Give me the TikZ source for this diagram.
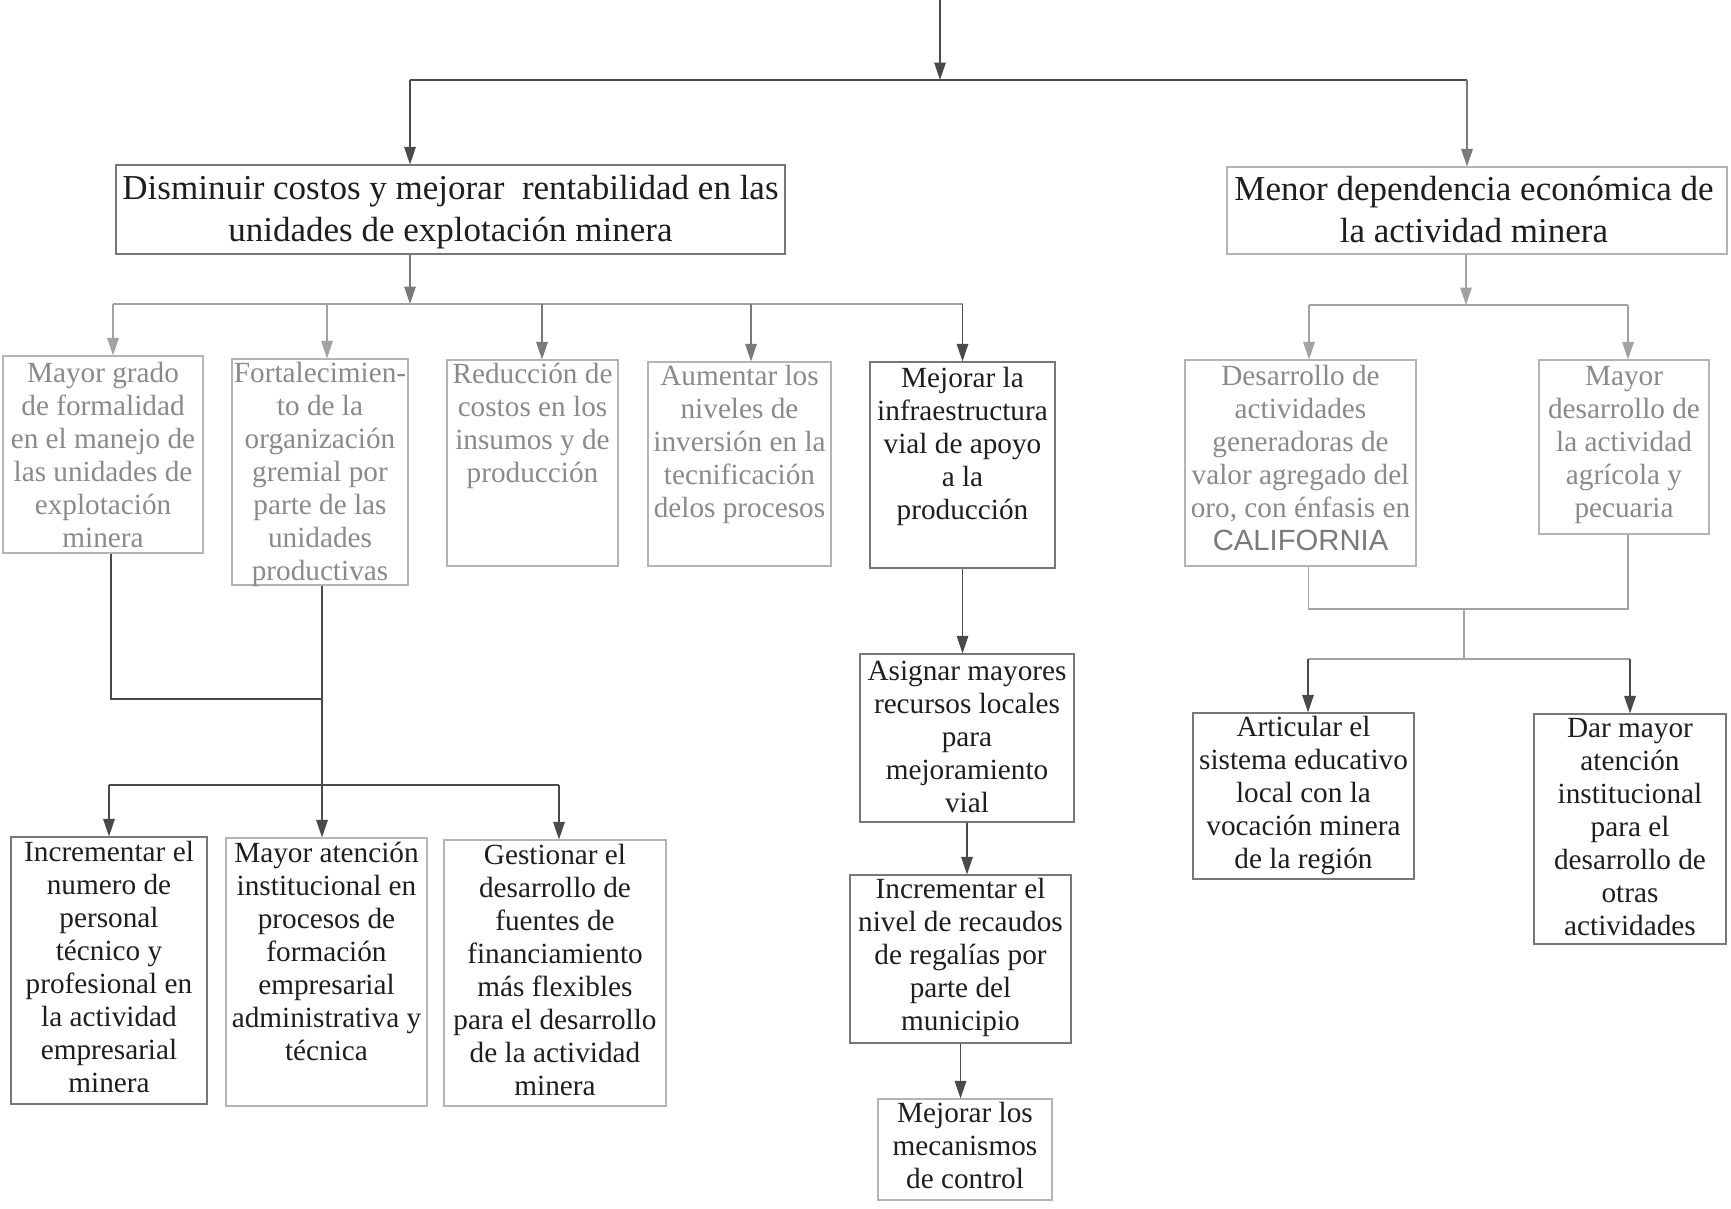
\documentclass[tikz,border=0pt]{standalone}
\usepackage{fontspec}
\setmainfont{Liberation Serif}
\newfontfamily\capsfont{Liberation Sans}
\usetikzlibrary{arrows.meta,calc}

\definecolor{ink}{HTML}{1E1E1E}
\definecolor{faint}{HTML}{8A8A8A}
\definecolor{wire}{HTML}{4A4A4A}
\definecolor{wiremid}{HTML}{7A7A7A}
\definecolor{wirefaint}{HTML}{A2A2A2}
\definecolor{frame}{HTML}{777777}
\definecolor{framefaint}{HTML}{B4B4B4}

\begin{document}
\begin{tikzpicture}[x=0.4pt,y=-0.4pt,
  box/.style={draw=frame,line width=0.45pt,inner sep=0pt},
  fadedbox/.style={box,draw=framefaint},
  txt/.style={anchor=north,align=center,inner sep=0pt,text=ink,font=\fontsize{11.7}{13.2}\selectfont},
  ftxt/.style={txt,text=faint},
  big/.style={txt,font=\fontsize{14}{16.8}\selectfont},
  conn/.style={draw=wire,line width=0.55pt},
  mconn/.style={draw=wiremid,line width=0.55pt},
  fconn/.style={draw=wirefaint,line width=0.55pt},
  tip/.style={-{Triangle[length=7pt,width=4.6pt]}},
  arr/.style={conn,tip},
  marr/.style={mconn,tip},
  farr/.style={fconn,tip},
]
\fill[white] (0,0) rectangle (1731,1208);
\useasboundingbox (0,0) rectangle (1731,1208);

% ---------- upper level ----------
\node[box,minimum width=267.6pt,minimum height=35.6pt] (D) at (450.5,209.5) {};
\node[big] (Dt) at ([yshift=-2pt]D.north) {\strut Disminuir costos y mejorar~ rentabilidad en las\\unidades de explotación minera};

\node[fadedbox,minimum width=200pt,minimum height=34.8pt] (M) at (1477,210.5) {};
\node[big] (Mt) at ([xshift=-1.2pt,yshift=-1.5pt]M.north) {\strut Menor dependencia económica de\\la actividad minera};

% ---------- second level, left ----------
\node[fadedbox,minimum width=80pt,minimum height=78.8pt] (a1) at (103,454.5) {};
\node[ftxt] (a1t) at ([yshift=-1.5pt]a1.north) {\strut Mayor grado\\de formalidad\\en el manejo de\\las unidades de\\explotación\\minera};

\node[fadedbox,minimum width=70.4pt,minimum height=90.4pt] (a2) at (320,472) {};
\node[ftxt] (a2t) at (a2.north) {\strut Fortalecimien-\\to de la\\organización\\gremial por\\parte de las\\unidades\\productivas};

\node[fadedbox,minimum width=68.4pt,minimum height=82.4pt] (a3) at (532.5,463) {};
\node[ftxt] (a3t) at (a3.north) {\strut Reducción de\\costos en los\\insumos y de\\producción};

\node[fadedbox,minimum width=73.2pt,minimum height=81.6pt] (a4) at (739.5,464) {};
\node[ftxt] (a4t) at (a4.north) {\strut Aumentar los\\niveles de\\inversión en la\\tecnificación\\delos procesos};

\node[box,minimum width=74pt,minimum height=82.4pt] (a5) at (962.5,465) {};
\node[txt] (a5t) at ([yshift=-0.8pt]a5.north) {\strut Mejorar la\\infraestructura\\vial de apoyo\\a la\\producción};

% ---------- second level, right ----------
\node[fadedbox,minimum width=92.4pt,minimum height=82.4pt] (r1) at (1300.5,463) {};
\node[ftxt] (r1t) at ([yshift=-0.8pt]r1.north) {\strut Desarrollo de\\actividades\\generadoras de\\valor agregado del\\oro, con énfasis en\\{\color{wiremid}\capsfont CALIFORNIA}};

\node[fadedbox,minimum width=68pt,minimum height=69.6pt] (r2) at (1624,447) {};
\node[ftxt] (r2t) at ([yshift=-0.8pt]r2.north) {\strut Mayor\\desarrollo de\\la actividad\\agrícola y\\pecuaria};

% ---------- third level, left ----------
\node[box,minimum width=78.4pt,minimum height=106.8pt] (c1) at (109,970.5) {};
\node[txt] (c1t) at ([yshift=-0.6pt]c1.north) {\strut Incrementar el\\numero de\\personal\\técnico y\\profesional en\\la actividad\\empresarial\\minera};

\node[fadedbox,minimum width=80.4pt,minimum height=107.2pt] (c2) at (326.5,972) {};
\node[txt] (c2t) at ([yshift=-0.6pt]c2.north) {\strut Mayor atención\\institucional en\\procesos de\\formación\\empresarial\\administrativa y\\técnica};

\node[fadedbox,minimum width=88.8pt,minimum height=106.4pt] (c3) at (555,973) {};
\node[txt] (c3t) at ([yshift=-0.6pt]c3.north) {\strut Gestionar el\\desarrollo de\\fuentes de\\financiamiento\\más flexibles\\para el desarrollo\\de la actividad\\minera};

% ---------- middle chain ----------
\node[box,minimum width=85.6pt,minimum height=67.2pt] (m1) at (967,738) {};
\node[txt] (m1t) at ([yshift=-1.2pt]m1.north) {\strut Asignar mayores\\recursos locales\\para\\mejoramiento\\vial};

\node[box,minimum width=88.4pt,minimum height=67.2pt] (m2) at (960.5,959) {};
\node[txt] (m2t) at (m2.north) {\strut Incrementar el\\nivel de recaudos\\de regalías por\\parte del\\municipio};

\node[fadedbox,minimum width=69.6pt,minimum height=40.4pt] (m3) at (965,1149.5) {};
\node[txt] (m3t) at (m3.north) {\strut Mejorar los\\mecanismos\\de control};

% ---------- third level, right ----------
\node[box,minimum width=88.4pt,minimum height=66.4pt] (r3) at (1303.5,796) {};
\node[txt] (r3t) at (r3.north) {\strut Articular el\\sistema educativo\\local con la\\vocación minera\\de la región};

\node[box,minimum width=76.8pt,minimum height=92pt] (r4) at (1630,829) {};
\node[txt] (r4t) at (r4.north) {\strut Dar mayor\\atención\\institucional\\para el\\desarrollo de\\otras\\actividades};

% ---------- connectors ----------
\coordinate (top) at (940,0);
\coordinate (jL) at (410,80);
\coordinate (jR) at (1467,80);
\draw[arr] (top) -- (top |- jL);
\draw[conn] (jL) -- (jR);
\draw[arr] (jL) -- (jL |- D.north);
\draw[marr] (jR) -- (jR |- M.north);

% branches below the left objective
\coordinate (dbus) at (410,304);
\coordinate (a1in) at ($(a1.north)+(10,0)$);
\coordinate (a2in) at ($(a2.north)+(7,0)$);
\coordinate (a3in) at ($(a3.north)+(9.5,0)$);
\coordinate (a4in) at ($(a4.north)+(11.5,0)$);
\draw[marr] (D.south -| dbus) -- (dbus);
\draw[fconn] (a1in |- dbus) -- (a5.north |- dbus);
\draw[farr] (a1in |- dbus) -- (a1in);
\draw[farr] (a2in |- dbus) -- (a2in);
\draw[marr] (a3in |- dbus) -- (a3in);
\draw[marr] (a4in |- dbus) -- (a4in);
\draw[arr] (a5.north |- dbus) -- (a5.north);

% branches below the right objective
\coordinate (mbus) at (1466,305);
\coordinate (r1in) at ($(r1.north)+(8.5,0)$);
\coordinate (r2in) at ($(r2.north)+(4,0)$);
\draw[farr] (M.south -| mbus) -- (mbus);
\draw[fconn] (r1in |- mbus) -- (r2in |- mbus);
\draw[farr] (r1in |- mbus) -- (r1in);
\draw[farr] (r2in |- mbus) -- (r2in);

% joint of the first two boxes and their actions
\coordinate (a1out) at ($(a1.south)+(8,0)$);
\coordinate (a2out) at ($(a2.south)+(2,0)$);
\coordinate (c3in) at ($(c3.north)+(4,0)$);
\coordinate (jmid) at (322,699);
\coordinate (cbus) at (322,785);
\draw[conn] (a1out) |- (jmid);
\draw[arr] (a2out) -- (a2out |- c2.north);
\draw[conn] (c1.north |- cbus) -- (c3in |- cbus);
\draw[arr] (c1.north |- cbus) -- (c1.north);
\draw[arr] (c3in |- cbus) -- (c3in);

% road infrastructure chain
\draw[arr] (a5.south) -- (a5.south |- m1.north);
\draw[arr] (m1.south) -- (m1.south |- m2.north);
\draw[arr] (m2.south) -- (m2.south |- m3.north);

% joint of the right boxes and their actions
\coordinate (r1out) at ($(r1.south)+(8,0)$);
\coordinate (r2out) at ($(r2.south)+(4,0)$);
\coordinate (r3in) at ($(r3.north)+(4.5,0)$);
\coordinate (rj1) at (1464,609);
\coordinate (rj2) at (1464,659);
\draw[fconn] (r1out) |- (rj1) -| (r2out);
\draw[fconn] (rj1) -- (rj2);
\draw[fconn] (r3in |- rj2) -- (r4.north |- rj2);
\draw[arr] (r3in |- rj2) -- (r3in);
\draw[arr] (r4.north |- rj2) -- (r4.north);
\end{tikzpicture}
\end{document}
